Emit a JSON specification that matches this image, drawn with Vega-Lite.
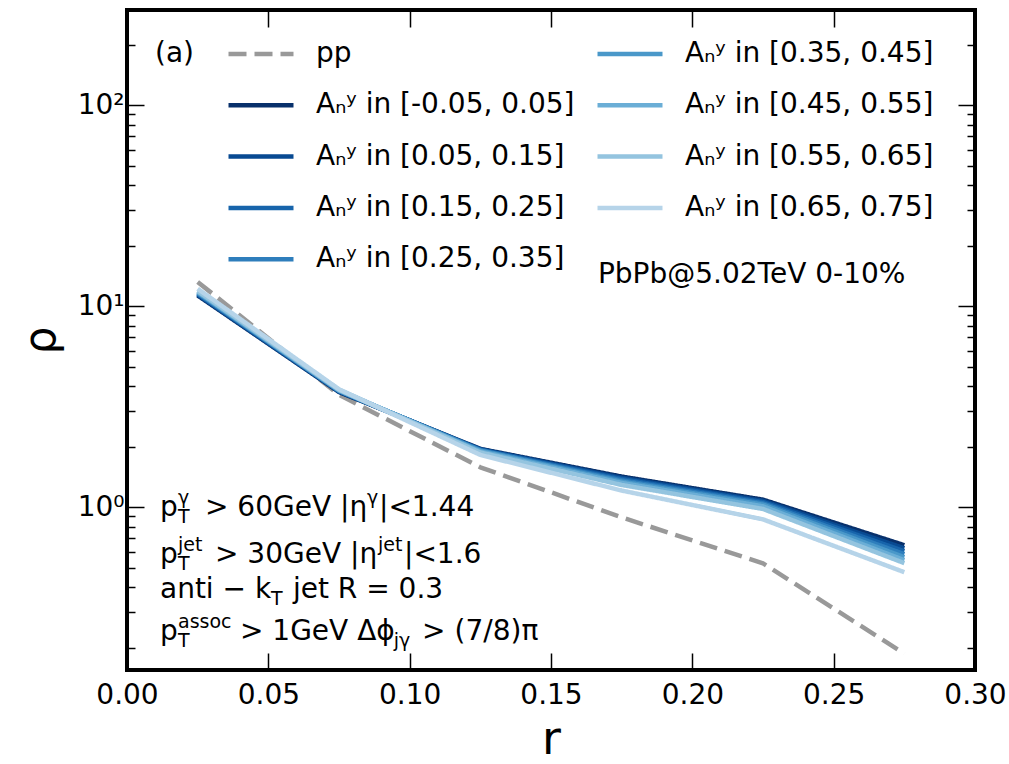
{
  "$schema": "https://vega.github.io/schema/vega-lite/v6.json",
  "width": 848,
  "height": 660,
  "autosize": "none",
  "padding": {"left": 127, "top": 10, "right": 34, "bottom": 94},
  "background": "white",
  "config": {
    "font": "DejaVu Sans",
    "view": {"stroke": "black", "strokeWidth": 4},
    "text": {"font": "DejaVu Sans", "color": "black"}
  },
  "datasets": {
    "pp": [
      {"series": "pp", "r": 0.025, "rho": 13.2},
      {"series": "pp", "r": 0.075, "rho": 3.62},
      {"series": "pp", "r": 0.125, "rho": 1.58},
      {"series": "pp", "r": 0.175, "rho": 0.89},
      {"series": "pp", "r": 0.225, "rho": 0.526},
      {"series": "pp", "r": 0.275, "rho": 0.187}
    ],
    "blues": [
      {"series": "Aₙʸ in [-0.05, 0.05]", "r": 0.025, "rho": 11.3},
      {"series": "Aₙʸ in [-0.05, 0.05]", "r": 0.075, "rho": 3.74},
      {"series": "Aₙʸ in [-0.05, 0.05]", "r": 0.125, "rho": 1.95},
      {"series": "Aₙʸ in [-0.05, 0.05]", "r": 0.175, "rho": 1.42},
      {"series": "Aₙʸ in [-0.05, 0.05]", "r": 0.225, "rho": 1.09},
      {"series": "Aₙʸ in [-0.05, 0.05]", "r": 0.275, "rho": 0.647},
      {"series": "Aₙʸ in [0.05, 0.15]", "r": 0.025, "rho": 11.4},
      {"series": "Aₙʸ in [0.05, 0.15]", "r": 0.075, "rho": 3.76},
      {"series": "Aₙʸ in [0.05, 0.15]", "r": 0.125, "rho": 1.94},
      {"series": "Aₙʸ in [0.05, 0.15]", "r": 0.175, "rho": 1.40},
      {"series": "Aₙʸ in [0.05, 0.15]", "r": 0.225, "rho": 1.075},
      {"series": "Aₙʸ in [0.05, 0.15]", "r": 0.275, "rho": 0.625},
      {"series": "Aₙʸ in [0.15, 0.25]", "r": 0.025, "rho": 11.5},
      {"series": "Aₙʸ in [0.15, 0.25]", "r": 0.075, "rho": 3.78},
      {"series": "Aₙʸ in [0.15, 0.25]", "r": 0.125, "rho": 1.93},
      {"series": "Aₙʸ in [0.15, 0.25]", "r": 0.175, "rho": 1.38},
      {"series": "Aₙʸ in [0.15, 0.25]", "r": 0.225, "rho": 1.06},
      {"series": "Aₙʸ in [0.15, 0.25]", "r": 0.275, "rho": 0.604},
      {"series": "Aₙʸ in [0.25, 0.35]", "r": 0.025, "rho": 11.6},
      {"series": "Aₙʸ in [0.25, 0.35]", "r": 0.075, "rho": 3.79},
      {"series": "Aₙʸ in [0.25, 0.35]", "r": 0.125, "rho": 1.92},
      {"series": "Aₙʸ in [0.25, 0.35]", "r": 0.175, "rho": 1.36},
      {"series": "Aₙʸ in [0.25, 0.35]", "r": 0.225, "rho": 1.045},
      {"series": "Aₙʸ in [0.25, 0.35]", "r": 0.275, "rho": 0.584},
      {"series": "Aₙʸ in [0.35, 0.45]", "r": 0.025, "rho": 11.7},
      {"series": "Aₙʸ in [0.35, 0.45]", "r": 0.075, "rho": 3.80},
      {"series": "Aₙʸ in [0.35, 0.45]", "r": 0.125, "rho": 1.91},
      {"series": "Aₙʸ in [0.35, 0.45]", "r": 0.175, "rho": 1.34},
      {"series": "Aₙʸ in [0.35, 0.45]", "r": 0.225, "rho": 1.03},
      {"series": "Aₙʸ in [0.35, 0.45]", "r": 0.275, "rho": 0.564},
      {"series": "Aₙʸ in [0.45, 0.55]", "r": 0.025, "rho": 11.8},
      {"series": "Aₙʸ in [0.45, 0.55]", "r": 0.075, "rho": 3.82},
      {"series": "Aₙʸ in [0.45, 0.55]", "r": 0.125, "rho": 1.89},
      {"series": "Aₙʸ in [0.45, 0.55]", "r": 0.175, "rho": 1.32},
      {"series": "Aₙʸ in [0.45, 0.55]", "r": 0.225, "rho": 1.01},
      {"series": "Aₙʸ in [0.45, 0.55]", "r": 0.275, "rho": 0.545},
      {"series": "Aₙʸ in [0.55, 0.65]", "r": 0.025, "rho": 11.9},
      {"series": "Aₙʸ in [0.55, 0.65]", "r": 0.075, "rho": 3.84},
      {"series": "Aₙʸ in [0.55, 0.65]", "r": 0.125, "rho": 1.87},
      {"series": "Aₙʸ in [0.55, 0.65]", "r": 0.175, "rho": 1.29},
      {"series": "Aₙʸ in [0.55, 0.65]", "r": 0.225, "rho": 0.98},
      {"series": "Aₙʸ in [0.55, 0.65]", "r": 0.275, "rho": 0.527},
      {"series": "Aₙʸ in [0.65, 0.75]", "r": 0.025, "rho": 12.2},
      {"series": "Aₙʸ in [0.65, 0.75]", "r": 0.075, "rho": 3.86},
      {"series": "Aₙʸ in [0.65, 0.75]", "r": 0.125, "rho": 1.82},
      {"series": "Aₙʸ in [0.65, 0.75]", "r": 0.175, "rho": 1.21},
      {"series": "Aₙʸ in [0.65, 0.75]", "r": 0.225, "rho": 0.87},
      {"series": "Aₙʸ in [0.65, 0.75]", "r": 0.275, "rho": 0.475}
    ]
  },
  "layer": [
    {
      "data": {"name": "pp"},
      "mark": {"type": "line", "strokeWidth": 4.5, "strokeJoin": "round"},
      "encoding": {
        "x": {
          "field": "r", "type": "quantitative",
          "scale": {"domain": [0, 0.3], "nice": false, "zero": false},
          "axis": {
            "orient": "bottom", "values": [0, 0.05, 0.1, 0.15, 0.2, 0.25, 0.3], "format": ".2f",
            "domain": false, "grid": false, "tickSize": -17, "tickWidth": 1.5, "tickColor": "black",
            "labelFontSize": 28, "labelColor": "black", "labelPadding": 28, "labelFlush": false, "labelOverlap": false,
            "title": "r", "titleFontSize": 46, "titleFontWeight": "normal", "titleColor": "black", "titlePadding": 8
          }
        },
        "y": {
          "field": "rho", "type": "quantitative",
          "scale": {"type": "log", "domain": [0.155, 297], "nice": false},
          "axis": {
            "orient": "left",
            "values": [0.2, 0.3, 0.4, 0.5, 0.6, 0.7, 0.8, 0.9, 1, 2, 3, 4, 5, 6, 7, 8, 9, 10, 20, 30, 40, 50, 60, 70, 80, 90, 100, 200],
            "labelExpr": "datum.value == 1 ? '10⁰' : datum.value == 10 ? '10¹' : datum.value == 100 ? '10²' : ''",
            "domain": false, "grid": false,
            "tickSize": {"condition": {"test": "datum.value == 1 || datum.value == 10 || datum.value == 100", "value": -17}, "value": -8},
            "tickWidth": 1.5, "tickColor": "black",
            "labelFontSize": 28, "labelColor": "black", "labelPadding": 20, "labelFlush": false, "labelOverlap": false, "labelBound": false,
            "title": "ρ", "titleFontSize": 44, "titleFontWeight": "normal", "titleColor": "black", "titlePadding": 14
          }
        },
        "color": {
          "field": "series", "type": "nominal", "title": null,
          "scale": {
            "domain": ["pp", "Aₙʸ in [-0.05, 0.05]", "Aₙʸ in [0.05, 0.15]", "Aₙʸ in [0.15, 0.25]", "Aₙʸ in [0.25, 0.35]", "Aₙʸ in [0.35, 0.45]", "Aₙʸ in [0.45, 0.55]", "Aₙʸ in [0.55, 0.65]", "Aₙʸ in [0.65, 0.75]"],
            "range": ["#999999", "#08306b", "#084a92", "#1764ab", "#2e7ebc", "#4a98c9", "#6baed6", "#94c4df", "#b6d4e9"]
          },
          "legend": {
            "orient": "none", "legendX": 99, "legendY": 9, "columns": 2, "columnPadding": 13, "rowPadding": 2.3,
            "symbolType": "stroke", "symbolSize": 4225, "symbolStrokeWidth": 4.5,
            "labelFontSize": 28, "labelFont": "DejaVu Sans", "labelColor": "black", "labelOffset": 20, "labelLimit": 0,
            "padding": 0
          }
        },
        "strokeDash": {
          "field": "series", "type": "nominal", "title": null,
          "scale": {
            "domain": ["pp", "Aₙʸ in [-0.05, 0.05]", "Aₙʸ in [0.05, 0.15]", "Aₙʸ in [0.15, 0.25]", "Aₙʸ in [0.25, 0.35]", "Aₙʸ in [0.35, 0.45]", "Aₙʸ in [0.45, 0.55]", "Aₙʸ in [0.55, 0.65]", "Aₙʸ in [0.65, 0.75]"],
            "range": [[18, 8], [1, 0], [1, 0], [1, 0], [1, 0], [1, 0], [1, 0], [1, 0], [1, 0]]
          },
          "legend": {
            "orient": "none", "legendX": 99, "legendY": 9, "columns": 2, "columnPadding": 13, "rowPadding": 2.3,
            "symbolType": "stroke", "symbolSize": 4225, "symbolStrokeWidth": 4.5,
            "labelFontSize": 28, "labelFont": "DejaVu Sans", "labelColor": "black", "labelOffset": 20, "labelLimit": 0,
            "padding": 0
          }
        }
      }
    },
    {
      "data": {"name": "blues"},
      "mark": {"type": "line", "strokeWidth": 4.5, "strokeJoin": "round"},
      "encoding": {
        "x": {
          "field": "r", "type": "quantitative",
          "axis": {
            "orient": "top", "values": [0, 0.05, 0.1, 0.15, 0.2, 0.25, 0.3], "labels": false,
            "domain": false, "grid": false, "tickSize": -17, "tickWidth": 1.5, "tickColor": "black", "title": null
          }
        },
        "y": {
          "field": "rho", "type": "quantitative",
          "axis": {
            "orient": "right",
            "values": [0.2, 0.3, 0.4, 0.5, 0.6, 0.7, 0.8, 0.9, 1, 2, 3, 4, 5, 6, 7, 8, 9, 10, 20, 30, 40, 50, 60, 70, 80, 90, 100, 200],
            "labels": false, "domain": false, "grid": false,
            "tickSize": {"condition": {"test": "datum.value == 1 || datum.value == 10 || datum.value == 100", "value": -17}, "value": -8},
            "tickWidth": 1.5, "tickColor": "black", "title": null
          }
        },
        "color": {"field": "series", "type": "nominal", "title": null},
        "strokeDash": {"field": "series", "type": "nominal", "title": null}
      }
    },
    {
      "data": {"values": [{}]},
      "mark": {"type": "text", "align": "left", "baseline": "alphabetic", "fontSize": 28},
      "layer": [
        {"mark": {"type": "text", "text": "(a)", "align": "left", "baseline": "alphabetic", "fontSize": 28},
         "encoding": {"x": {"datum": 0.0099, "axis": null}, "y": {"datum": 163.7, "axis": null}}},
        {"mark": {"type": "text", "text": "PbPb@5.02TeV 0-10%", "align": "left", "baseline": "alphabetic", "fontSize": 28},
         "encoding": {"x": {"datum": 0.1666, "axis": null}, "y": {"datum": 13.0, "axis": null}}},

        {"mark": {"type": "text", "text": "p", "align": "left", "baseline": "alphabetic", "fontSize": 28},
         "encoding": {"x": {"datum": 0.01167, "axis": null}, "y": {"datum": 0.902, "axis": null}}},
        {"mark": {"type": "text", "text": "T", "align": "left", "baseline": "alphabetic", "fontSize": 19, "dy": 7},
         "encoding": {"x": {"datum": 0.01804, "axis": null}, "y": {"datum": 0.902, "axis": null}}},
        {"mark": {"type": "text", "text": "γ", "align": "left", "baseline": "alphabetic", "fontSize": 19, "dy": -12},
         "encoding": {"x": {"datum": 0.01804, "axis": null}, "y": {"datum": 0.902, "axis": null}}},
        {"mark": {"type": "text", "text": "> 60GeV", "align": "left", "baseline": "alphabetic", "fontSize": 28},
         "encoding": {"x": {"datum": 0.02759, "axis": null}, "y": {"datum": 0.902, "axis": null}}},
        {"mark": {"type": "text", "text": "|η", "align": "left", "baseline": "alphabetic", "fontSize": 28},
         "encoding": {"x": {"datum": 0.07535, "axis": null}, "y": {"datum": 0.902, "axis": null}}},
        {"mark": {"type": "text", "text": "γ", "align": "left", "baseline": "alphabetic", "fontSize": 19, "dy": -12},
         "encoding": {"x": {"datum": 0.08490, "axis": null}, "y": {"datum": 0.902, "axis": null}}},
        {"mark": {"type": "text", "text": "|<1.44", "align": "left", "baseline": "alphabetic", "fontSize": 28},
         "encoding": {"x": {"datum": 0.08914, "axis": null}, "y": {"datum": 0.902, "axis": null}}},

        {"mark": {"type": "text", "text": "p", "align": "left", "baseline": "alphabetic", "fontSize": 28},
         "encoding": {"x": {"datum": 0.01167, "axis": null}, "y": {"datum": 0.5266, "axis": null}}},
        {"mark": {"type": "text", "text": "T", "align": "left", "baseline": "alphabetic", "fontSize": 19, "dy": 7},
         "encoding": {"x": {"datum": 0.01804, "axis": null}, "y": {"datum": 0.5266, "axis": null}}},
        {"mark": {"type": "text", "text": "jet", "align": "left", "baseline": "alphabetic", "fontSize": 19, "dy": -12},
         "encoding": {"x": {"datum": 0.01804, "axis": null}, "y": {"datum": 0.5266, "axis": null}}},
        {"mark": {"type": "text", "text": "> 30GeV", "align": "left", "baseline": "alphabetic", "fontSize": 28},
         "encoding": {"x": {"datum": 0.03113, "axis": null}, "y": {"datum": 0.5266, "axis": null}}},
        {"mark": {"type": "text", "text": "|η", "align": "left", "baseline": "alphabetic", "fontSize": 28},
         "encoding": {"x": {"datum": 0.07888, "axis": null}, "y": {"datum": 0.5266, "axis": null}}},
        {"mark": {"type": "text", "text": "jet", "align": "left", "baseline": "alphabetic", "fontSize": 19, "dy": -12},
         "encoding": {"x": {"datum": 0.08879, "axis": null}, "y": {"datum": 0.5266, "axis": null}}},
        {"mark": {"type": "text", "text": "|<1.6", "align": "left", "baseline": "alphabetic", "fontSize": 28},
         "encoding": {"x": {"datum": 0.09798, "axis": null}, "y": {"datum": 0.5266, "axis": null}}},

        {"mark": {"type": "text", "text": "anti − k", "align": "left", "baseline": "alphabetic", "fontSize": 28},
         "encoding": {"x": {"datum": 0.01167, "axis": null}, "y": {"datum": 0.3526, "axis": null}}},
        {"mark": {"type": "text", "text": "T", "align": "left", "baseline": "alphabetic", "fontSize": 19, "dy": 7},
         "encoding": {"x": {"datum": 0.05093, "axis": null}, "y": {"datum": 0.3526, "axis": null}}},
        {"mark": {"type": "text", "text": "jet R = 0.3", "align": "left", "baseline": "alphabetic", "fontSize": 28},
         "encoding": {"x": {"datum": 0.05872, "axis": null}, "y": {"datum": 0.3526, "axis": null}}},

        {"mark": {"type": "text", "text": "p", "align": "left", "baseline": "alphabetic", "fontSize": 28},
         "encoding": {"x": {"datum": 0.01167, "axis": null}, "y": {"datum": 0.218, "axis": null}}},
        {"mark": {"type": "text", "text": "T", "align": "left", "baseline": "alphabetic", "fontSize": 19, "dy": 7},
         "encoding": {"x": {"datum": 0.01804, "axis": null}, "y": {"datum": 0.218, "axis": null}}},
        {"mark": {"type": "text", "text": "assoc", "align": "left", "baseline": "alphabetic", "fontSize": 19, "dy": -12},
         "encoding": {"x": {"datum": 0.01804, "axis": null}, "y": {"datum": 0.218, "axis": null}}},
        {"mark": {"type": "text", "text": "> 1GeV Δϕ", "align": "left", "baseline": "alphabetic", "fontSize": 28},
         "encoding": {"x": {"datum": 0.03997, "axis": null}, "y": {"datum": 0.218, "axis": null}}},
        {"mark": {"type": "text", "text": "jγ", "align": "left", "baseline": "alphabetic", "fontSize": 19, "dy": 7},
         "encoding": {"x": {"datum": 0.0944, "axis": null}, "y": {"datum": 0.218, "axis": null}}},
        {"mark": {"type": "text", "text": "> (7/8)π", "align": "left", "baseline": "alphabetic", "fontSize": 28},
         "encoding": {"x": {"datum": 0.1044, "axis": null}, "y": {"datum": 0.218, "axis": null}}}
      ]
    }
  ],
  "resolve": {"axis": {"x": "independent", "y": "independent"}}
}
